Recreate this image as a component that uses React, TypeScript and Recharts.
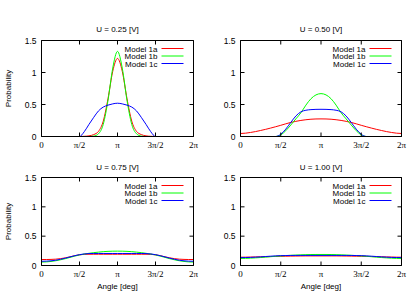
import { LineChart, Line, XAxis, YAxis } from "recharts";

// angle in multiples of pi, step pi/16
const ANGLE = [
  0, 0.0625, 0.125, 0.1875, 0.25, 0.3125, 0.375, 0.4375, 0.5, 0.5625, 0.625, 0.6875, 0.75, 0.8125, 0.875, 0.9375, 1,
  1.0625, 1.125, 1.1875, 1.25, 1.3125, 1.375, 1.4375, 1.5, 1.5625, 1.625, 1.6875, 1.75, 1.8125, 1.875, 1.9375, 2,
];

// U = 0.25 V
const U025_1A = [0, 0, 0, 0, 0, 0, 0, 0, 0, 0.003, 0.01, 0.03, 0.08, 0.24, 0.59, 1.02, 1.22, 1.02, 0.59, 0.24, 0.08, 0.03, 0.01, 0.003, 0, 0, 0, 0, 0, 0, 0, 0, 0];
const U025_1B = [0, 0, 0, 0, 0, 0, 0, 0, 0, 0, 0, 0.006, 0.043, 0.19, 0.565, 1.07, 1.33, 1.07, 0.565, 0.19, 0.043, 0.006, 0, 0, 0, 0, 0, 0, 0, 0, 0, 0, 0];
const U025_1C = [0, 0, 0, 0, 0, 0, 0, 0, 0, 0.075, 0.19, 0.3, 0.4, 0.46, 0.49, 0.51, 0.52, 0.51, 0.49, 0.46, 0.4, 0.3, 0.19, 0.075, 0, 0, 0, 0, 0, 0, 0, 0, 0];

// U = 0.50 V
const U050_1A = [0.047, 0.052, 0.063, 0.077, 0.094, 0.112, 0.132, 0.153, 0.175, 0.198, 0.22, 0.237, 0.251, 0.262, 0.27, 0.274, 0.275, 0.274, 0.27, 0.262, 0.251, 0.237, 0.22, 0.198, 0.175, 0.153, 0.132, 0.112, 0.094, 0.077, 0.063, 0.052, 0.047];
const U050_1B = [0, 0, 0, 0, 0, 0, 0, 0, 0.025, 0.09, 0.18, 0.275, 0.37, 0.49, 0.59, 0.65, 0.67, 0.65, 0.59, 0.49, 0.37, 0.275, 0.18, 0.09, 0.025, 0, 0, 0, 0, 0, 0, 0, 0];
const U050_1C = [0, 0, 0, 0, 0, 0, 0, 0, 0.035, 0.115, 0.22, 0.32, 0.385, 0.41, 0.42, 0.424, 0.425, 0.424, 0.42, 0.41, 0.385, 0.32, 0.22, 0.115, 0.035, 0, 0, 0, 0, 0, 0, 0, 0];

// U = 0.75 V
const U075_1A = [0.102, 0.102, 0.104, 0.108, 0.117, 0.13, 0.148, 0.167, 0.182, 0.19, 0.192, 0.192, 0.192, 0.192, 0.192, 0.192, 0.192, 0.192, 0.192, 0.192, 0.192, 0.192, 0.192, 0.19, 0.182, 0.167, 0.148, 0.13, 0.117, 0.108, 0.104, 0.102, 0.102];
const U075_1B = [0.058, 0.061, 0.069, 0.081, 0.097, 0.116, 0.138, 0.16, 0.18, 0.195, 0.208, 0.219, 0.228, 0.236, 0.241, 0.244, 0.245, 0.244, 0.241, 0.236, 0.228, 0.219, 0.208, 0.195, 0.18, 0.16, 0.138, 0.116, 0.097, 0.081, 0.069, 0.061, 0.058];
const U075_1C = [0.072, 0.074, 0.08, 0.09, 0.106, 0.125, 0.146, 0.167, 0.185, 0.197, 0.203, 0.205, 0.205, 0.205, 0.205, 0.205, 0.205, 0.205, 0.205, 0.205, 0.205, 0.205, 0.203, 0.197, 0.185, 0.167, 0.146, 0.125, 0.106, 0.09, 0.08, 0.074, 0.072];

// U = 1.00 V
const U100_1A = [0.141, 0.142, 0.144, 0.146, 0.148, 0.15, 0.153, 0.155, 0.157, 0.158, 0.16, 0.161, 0.162, 0.163, 0.163, 0.163, 0.163, 0.163, 0.163, 0.163, 0.162, 0.161, 0.16, 0.158, 0.157, 0.155, 0.153, 0.15, 0.148, 0.146, 0.144, 0.142, 0.141];
const U100_1B = [0.12, 0.121, 0.125, 0.13, 0.136, 0.143, 0.15, 0.157, 0.163, 0.169, 0.174, 0.178, 0.182, 0.185, 0.187, 0.188, 0.188, 0.188, 0.187, 0.185, 0.182, 0.178, 0.174, 0.169, 0.163, 0.157, 0.15, 0.143, 0.136, 0.13, 0.125, 0.121, 0.12];
const U100_1C = [0.135, 0.136, 0.138, 0.142, 0.147, 0.153, 0.159, 0.164, 0.168, 0.17, 0.171, 0.172, 0.172, 0.172, 0.172, 0.172, 0.172, 0.172, 0.172, 0.172, 0.172, 0.172, 0.171, 0.17, 0.168, 0.164, 0.159, 0.153, 0.147, 0.142, 0.138, 0.136, 0.135];

const X_TICKS = [0, 0.5, 1, 1.5, 2];
const X_TICK_LABELS = ["0", "π/2", "π", "3π/2", "2π"];
const Y_TICKS = [0, 0.5, 1, 1.5];
const Y_TICK_LABELS = ["0", "0.5", "1", "1.5"];

const SERIES = [
  { key: "a", name: "Model 1a", color: "#ff0000" },
  { key: "b", name: "Model 1b", color: "#00ff00" },
  { key: "c", name: "Model 1c", color: "#0000ff" },
];

const SANS = "'Liberation Sans', Arial, sans-serif";
const SERIF = "'Liberation Serif', 'Times New Roman', serif";
const W = 415;
const H = 291;
const TICK = 4;
// space reserved for each axis (taken off the plot box margins)
const AX_BOTTOM = 5;
const AX_TOP = 5;
const AX_LEFT = 5;
const AX_RIGHT = 3;

const rows = (a: number[], b: number[], c: number[]) =>
  ANGLE.map((x, i) => ({ x, a: a[i], b: b[i], c: c[i] }));

// plot box edges in page pixels
const PANELS = [
  { title: "U = 0.25 [V]", data: rows(U025_1A, U025_1B, U025_1C), box: { left: 41.5, right: 193.5, top: 40.5, bottom: 136.5 }, titleGap: 9, yLabel: true, xLabel: false },
  { title: "U = 0.50 [V]", data: rows(U050_1A, U050_1B, U050_1C), box: { left: 240.5, right: 401.5, top: 40.5, bottom: 136.5 }, titleGap: 9, yLabel: false, xLabel: false },
  { title: "U = 0.75 [V]", data: rows(U075_1A, U075_1B, U075_1C), box: { left: 41.5, right: 193.5, top: 177.5, bottom: 265.5 }, titleGap: 8, yLabel: true, xLabel: true },
  { title: "U = 1.00 [V]", data: rows(U100_1A, U100_1B, U100_1C), box: { left: 240.5, right: 401.5, top: 177.5, bottom: 265.5 }, titleGap: 8, yLabel: false, xLabel: true },
];

const BottomTick = (p: any) => (
  <g>
    <line x1={p.x} y1={p.y} x2={p.x} y2={p.y - TICK} stroke="#000" />
    <text x={p.x} y={p.y + 11.5} textAnchor="middle" fontSize={9} fontFamily={SERIF} fill="#000">
      {X_TICK_LABELS[X_TICKS.indexOf(p.payload.value)]}
    </text>
  </g>
);

const TopTick = (p: any) => <line x1={p.x} y1={p.y} x2={p.x} y2={p.y + TICK} stroke="#000" />;

const LeftTick = (p: any) => (
  <g>
    <line x1={p.x} y1={p.y} x2={p.x + TICK} y2={p.y} stroke="#000" />
    <text x={p.x - 5} y={p.y + 3} textAnchor="end" fontSize={8.5} fontFamily={SANS} fill="#000">
      {Y_TICK_LABELS[Y_TICKS.indexOf(p.payload.value)]}
    </text>
  </g>
);

const RightTick = (p: any) => <line x1={p.x} y1={p.y} x2={p.x - TICK} y2={p.y} stroke="#000" />;

function Panel({ panel }: { panel: (typeof PANELS)[number] }) {
  const { left, right, top, bottom } = panel.box;
  const margin = {
    left: left - AX_LEFT,
    right: W - right - AX_RIGHT,
    top: top - AX_TOP,
    bottom: H - bottom - AX_BOTTOM,
  };
  const cx = (left + right) / 2;
  const cy = (top + bottom) / 2;
  return (
    <div style={{ position: "absolute", left: 0, top: 0 }}>
      <LineChart width={W} height={H} data={panel.data} margin={margin}>
        <XAxis dataKey="x" type="number" domain={[0, 2]} ticks={X_TICKS} interval={0} height={AX_BOTTOM}
          tickSize={0} tickMargin={0} tickLine={false} tick={BottomTick} axisLine={{ stroke: "#000" }} allowDataOverflow />
        <XAxis xAxisId="top" dataKey="x" orientation="top" type="number" domain={[0, 2]} ticks={X_TICKS} interval={0} height={AX_TOP}
          tickSize={0} tickMargin={0} tickLine={false} tick={TopTick} axisLine={{ stroke: "#000" }} allowDataOverflow />
        <YAxis type="number" domain={[0, 1.5]} ticks={Y_TICKS} interval={0} width={AX_LEFT}
          tickSize={0} tickMargin={0} tickLine={false} tick={LeftTick} axisLine={{ stroke: "#000" }} allowDataOverflow />
        <YAxis yAxisId="right" orientation="right" type="number" domain={[0, 1.5]} ticks={Y_TICKS} interval={0} width={AX_RIGHT}
          tickSize={0} tickMargin={0} tickLine={false} tick={RightTick} axisLine={{ stroke: "#000" }} allowDataOverflow />
        {SERIES.map((s) => (
          <Line key={s.key} type="monotone" dataKey={s.key} name={s.name} stroke={s.color} strokeWidth={1}
            dot={false} activeDot={false} isAnimationActive={false} />
        ))}
        <text x={cx} y={top - panel.titleGap} textAnchor="middle" fontSize={8} fontFamily={SANS} fill="#000">
          {panel.title}
        </text>
        {panel.yLabel && (
          <text x={8.5} y={cy} transform={`rotate(-90 8.5 ${cy})`}
            textAnchor="middle" dominantBaseline="central" fontSize={8} fontFamily={SANS} fill="#000">
            Probability
          </text>
        )}
        {panel.xLabel && (
          <text x={cx} y={289} textAnchor="middle" fontSize={8} fontFamily={SANS} fill="#000">
            Angle [deg]
          </text>
        )}
        {SERIES.map((s, i) => {
          const y = top + 8 + i * 7.5;
          return (
            <g key={s.key}>
              <text x={right - 36} y={y + 3} textAnchor="end" fontSize={8} fontFamily={SANS} fill="#000">
                {s.name}
              </text>
              <line x1={right - 32} y1={y} x2={right - 10} y2={y} stroke={s.color} strokeWidth={1} />
            </g>
          );
        })}
      </LineChart>
    </div>
  );
}

export default function App() {
  return (
    <div style={{ position: "absolute", left: 0, top: 0, width: W, height: H, background: "#fff" }}>
      {PANELS.map((p) => (
        <Panel key={p.title} panel={p} />
      ))}
    </div>
  );
}
